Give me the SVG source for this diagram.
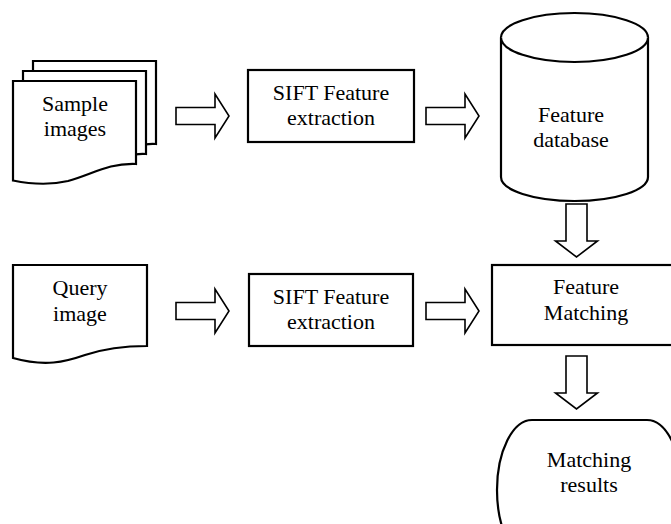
<svg xmlns="http://www.w3.org/2000/svg" xmlns:xlink="http://www.w3.org/1999/xlink" width="671" height="524" viewBox="0 0 671 524">
  <style>
    .shape { fill: #ffffff; stroke: #000000; stroke-width: 2.2; stroke-linejoin: miter; }
    .arrow { fill: #ffffff; stroke: #000000; stroke-width: 1.6; stroke-linejoin: miter; }
    .label { font-family: "Liberation Serif", "Times New Roman", serif; font-size: 22px; fill: #000000; text-anchor: middle; }
  </style>
  <defs>
    <!-- document shape with wavy bottom edge, origin at its top-left corner -->
    <path id="doc" d="M0,0 H123 V83 C95,82 80,93 55,100 C38,104 22,104 0,99.5 Z"/>
    <!-- block arrows -->
    <path id="rarrow" d="M0,-8.5 H39 V-22 L53,0 L39,22 V8.5 H0 Z"/>
    <path id="darrow" d="M-10.5,0 V37 H-21 L0,53 L21,37 H10.5 V0 Z"/>
  </defs>
  <rect width="671" height="524" fill="#ffffff"/>

  <g id="sample-images">
    <use xlink:href="#doc" class="shape" x="33" y="61"/>
    <use xlink:href="#doc" class="shape" x="23" y="71"/>
    <use xlink:href="#doc" class="shape" x="13" y="81"/>
    <text class="label" x="75" y="111">Sample</text>
    <text class="label" x="75" y="136">images</text>
  </g>

  <g id="sift-extraction-1">
    <rect class="shape" x="248" y="70" width="166" height="72"/>
    <text class="label" x="331" y="100">SIFT Feature</text>
    <text class="label" x="331" y="125">extraction</text>
  </g>

  <g id="feature-database">
    <path class="shape" d="M501,37.5 V177 A73.5,24 0 0 0 648,177 V37.5 A73.5,24.5 0 0 0 501,37.5 Z"/>
    <path class="shape" fill="none" d="M501,37.5 A73.5,24.5 0 0 0 648,37.5"/>
    <text class="label" x="571" y="122">Feature</text>
    <text class="label" x="571" y="147">database</text>
  </g>

  <g id="query-image">
    <path class="shape" d="M13,265 H147 V346 C120,346 100,350 85,355 C65,362 45,367 13,358 Z"/>
    <text class="label" x="80" y="295">Query</text>
    <text class="label" x="80" y="321">image</text>
  </g>

  <g id="sift-extraction-2">
    <rect class="shape" x="249" y="274" width="164" height="72"/>
    <text class="label" x="331" y="304">SIFT Feature</text>
    <text class="label" x="331" y="329">extraction</text>
  </g>

  <g id="feature-matching">
    <rect class="shape" x="492" y="265" width="190" height="80"/>
    <text class="label" x="586" y="294">Feature</text>
    <text class="label" x="586" y="320">Matching</text>
  </g>

  <g id="matching-results">
    <rect class="shape" x="497" y="420" width="185" height="140" rx="35" ry="70"/>
    <text class="label" x="589" y="467">Matching</text>
    <text class="label" x="589" y="492">results</text>
  </g>

  <g id="connectors">
    <use xlink:href="#rarrow" class="arrow" x="176" y="116"/>
    <use xlink:href="#rarrow" class="arrow" x="426" y="116"/>
    <use xlink:href="#rarrow" class="arrow" x="176" y="311"/>
    <use xlink:href="#rarrow" class="arrow" x="426" y="311"/>
    <use xlink:href="#darrow" class="arrow" x="576.5" y="204"/>
    <use xlink:href="#darrow" class="arrow" x="576.5" y="356"/>
  </g>
</svg>
